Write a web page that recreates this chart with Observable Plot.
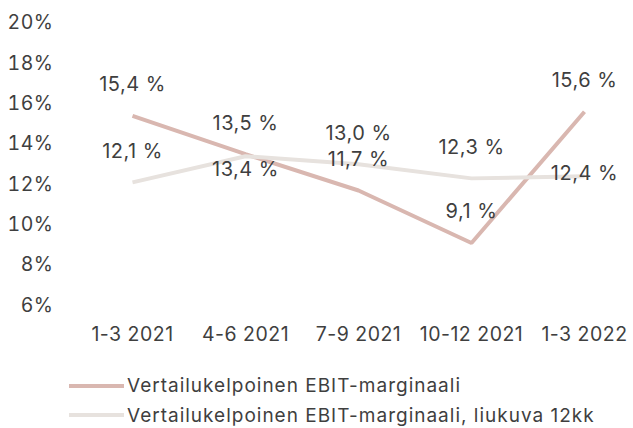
<!DOCTYPE html>
<html>
<head>
<meta charset="utf-8">
<script src="https://cdn.jsdelivr.net/npm/d3@7"></script>
<script src="https://cdn.jsdelivr.net/npm/@observablehq/plot@0.6"></script>
<style>
  html, body { margin: 0; padding: 0; background: #fff; }
  body { width: 633px; height: 428px; overflow: hidden; font-family: Inter, sans-serif; color: #3f3f3f; }
  #chart svg { display: block; overflow: visible; }
  #chart svg text { letter-spacing: 0.5px; }
  .legend { margin-left: 69px; margin-top: 21px; font-size: 19px; letter-spacing: 1px; }
  .legend .row { display: flex; align-items: center; height: 29.5px; }
  .legend .sw { width: 55px; height: 4px; margin-right: 3px; }
</style>
</head>
<body>
<div id="chart"></div>
<div class="legend" id="legend"></div>
<script>
const categories = ["1-3 2021", "4-6 2021", "7-9 2021", "10-12 2021", "1-3 2022"];
const seriesNames = ["Vertailukelpoinen EBIT-marginaali", "Vertailukelpoinen EBIT-marginaali, liukuva 12kk"];
const ebitMargin = [15.4, 13.5, 11.7, 9.1, 15.6];
const ebitRolling = [12.1, 13.4, 13.0, 12.3, 12.4];
const yTicks = [6, 8, 10, 12, 14, 16, 18, 20];
const colors = ["#d9b7b0", "#e7e2de"];

const fmt = v => v.toFixed(1).replace(".", ",") + " %";

const rows = [];
categories.forEach((c, i) => {
  rows.push({cat: c, value: ebitMargin[i], series: seriesNames[0], idx: i, s: 0});
  rows.push({cat: c, value: ebitRolling[i], series: seriesNames[1], idx: i, s: 1});
});

// label offsets (placement of data labels, like the original)
function labelDy(d) {
  if (d.s === 1 && d.idx === 1) return 13;
  if (d.s === 1 && d.idx === 4) return -3;
  return -31;
}

const chart = Plot.plot({
  width: 633,
  height: 350,
  marginTop: 22.5,
  marginBottom: 45,
  marginLeft: 131,
  marginRight: 48,
  style: {fontFamily: "Inter, sans-serif", fontSize: "19px", color: "#3f3f3f", background: "transparent"},
  x: {type: "point", domain: categories, padding: 0},
  y: {domain: [6, 20]},
  marks: [
    Plot.axisY({ticks: yTicks, tickSize: 0, tickPadding: 78, tickFormat: d => d + "%", fontSize: 19.5, label: null}),
    Plot.axisX({tickSize: 0, tickPadding: 21.5, fontSize: 19.5, label: null}),
    Plot.lineY(rows.filter(d => d.s === 0), {x: "cat", y: "value", stroke: colors[0], strokeWidth: 4, strokeLinejoin: "miter", strokeLinecap: "butt"}),
    Plot.lineY(rows.filter(d => d.s === 1), {x: "cat", y: "value", stroke: colors[1], strokeWidth: 4, strokeLinejoin: "miter", strokeLinecap: "butt"}),
    ...[-31, 13, -3].map(dy =>
      Plot.text(rows.filter(d => labelDy(d) === dy), {x: "cat", y: "value", text: d => fmt(d.value), dy, fill: "#3f3f3f", fontSize: 20})
    )
  ]
});
document.getElementById("chart").appendChild(chart);

const legend = document.getElementById("legend");
seriesNames.forEach((name, i) => {
  const row = document.createElement("div");
  row.className = "row";
  const sw = document.createElement("span");
  sw.className = "sw";
  sw.style.background = colors[i];
  const t = document.createElement("span");
  t.textContent = name;
  row.appendChild(sw);
  row.appendChild(t);
  legend.appendChild(row);
});
</script>
</body>
</html>
